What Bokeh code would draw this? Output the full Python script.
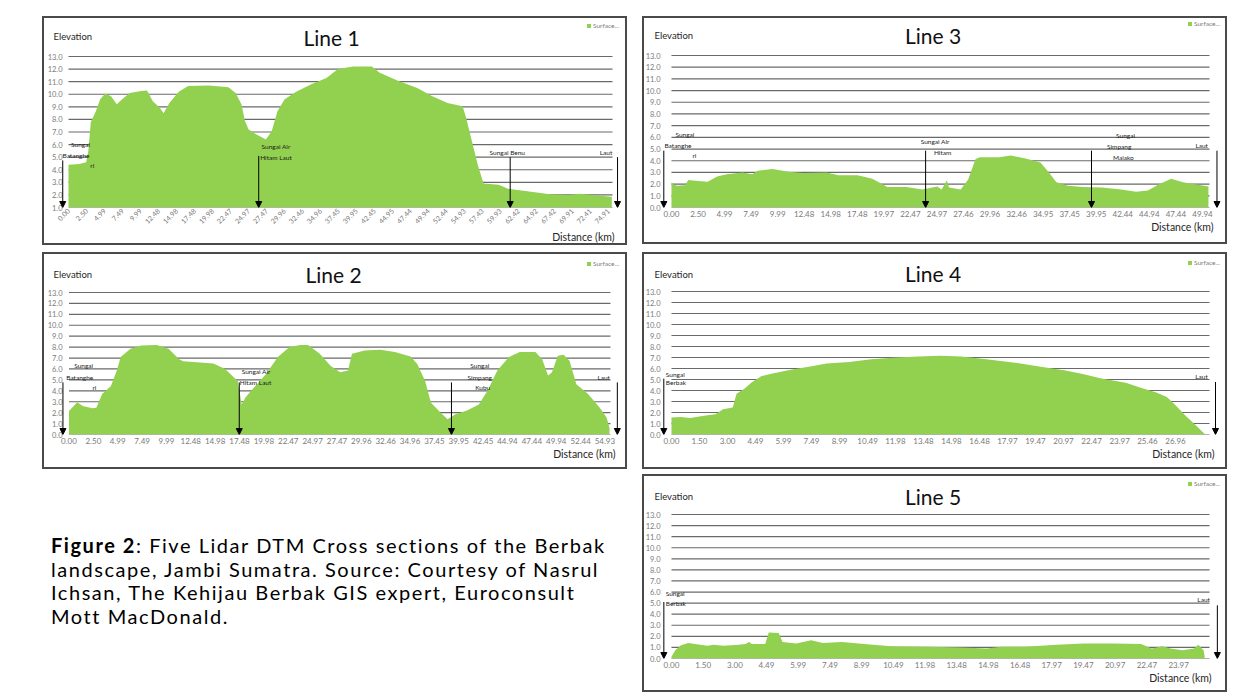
import math
from bokeh.plotting import figure
from bokeh.models import (Label, Arrow, NormalHead, Legend, LegendItem, FixedTicker,
                          PrintfTickFormatter, Range1d, Spacer, Div, Title)
from bokeh.layouts import row, column
from bokeh.embed import file_html
from bokeh.resources import INLINE

# ---------------- data ----------------
line1_km = [0.0, 1.5, 2.45, 2.75, 3.1, 3.8, 4.4, 5.1, 5.9, 6.7, 7.45, 8.5, 10.1, 10.9, 11.7,
            12.7, 13.2, 14.0, 15.3, 16.6, 19.5, 22.2, 23.2, 24.0, 24.5, 25.0, 26.1, 27.4,
            28.2, 29.0, 30.0, 31.6, 33.7, 35.8, 37.4, 39.5, 42.1, 43.2, 45.8, 48.4, 50.5,
            52.6, 54.7, 55.2, 56.0, 56.8, 57.6, 59.7, 61.0, 64.2, 66.8, 69.4, 71.0, 72.6, 75.4]
line1_elev = [4.4, 4.45, 4.6, 5.5, 7.8, 8.65, 9.6, 10.05, 9.85, 9.2, 9.6, 10.1, 10.25, 10.3, 9.45,
              8.9, 8.5, 9.3, 10.2, 10.65, 10.7, 10.55, 10.1, 9.2, 7.85, 7.2, 6.8, 6.4,
              7.05, 8.65, 9.6, 10.2, 10.8, 11.3, 12.0, 12.2, 12.2, 11.7, 11.05, 10.5, 9.85,
              9.3, 9.05, 8.1, 6.25, 4.4, 2.9, 2.8, 2.5, 2.25, 2.05, 2.0, 2.1, 2.0, 1.85]
line1_ticks = [0.00, 2.50, 4.99, 7.49, 9.99, 12.48, 14.98, 17.48, 19.98, 22.47, 24.97, 27.47,
               29.96, 32.46, 34.96, 37.45, 39.95, 42.45, 44.95, 47.44, 49.94, 52.44, 54.93,
               57.43, 59.93, 62.42, 64.92, 67.42, 69.91, 72.41, 74.91]

line2_km = [0.0, 0.85, 1.4, 2.4, 2.8, 3.4, 4.3, 4.9, 5.3, 6.3, 7.4, 9.0, 10.2, 11.3, 11.7,
            14.8, 16.0, 16.7, 17.3, 17.7, 18.1, 19.1, 20.2, 21.4, 22.6, 23.7, 24.5, 25.7,
            26.8, 27.8, 28.6, 29.0, 30.3, 31.9, 33.4, 35.0, 35.7, 36.5, 37.1, 38.1, 38.8,
            39.6, 40.8, 42.0, 42.9, 43.9, 45.1, 46.2, 47.8, 48.5, 49.1, 49.5, 50.1, 50.7,
            51.3, 52.0, 53.2, 54.4, 55.1, 55.4]
line2_elev = [2.15, 2.95, 2.6, 2.4, 2.45, 3.7, 4.45, 5.85, 7.1, 7.85, 8.15, 8.2, 7.85, 6.9, 6.7,
              6.5, 6.0, 5.4, 4.9, 2.75, 3.4, 4.45, 5.55, 7.1, 8.0, 8.2, 8.2, 7.4,
              6.3, 5.7, 5.85, 7.4, 7.7, 7.75, 7.55, 7.15, 6.45, 4.9, 2.9, 2.0, 1.4,
              1.85, 2.2, 2.75, 4.0, 5.85, 7.1, 7.55, 7.55, 6.9, 5.4, 5.7, 7.2, 7.3,
              6.75, 4.6, 3.7, 2.45, 1.55, 0.6]
line2_ticks = [0.00, 2.50, 4.99, 7.49, 9.99, 12.48, 14.98, 17.48, 19.98, 22.47, 24.97, 27.47,
               29.96, 32.46, 34.96, 37.45, 39.95, 42.45, 44.94, 47.44, 49.94, 52.44, 54.93]

line3_km = [0.0, 0.1, 0.5, 1.26, 1.6, 2.0, 3.4, 4.3, 5.2, 6.7, 7.6, 8.1, 9.5, 11.0, 12.4,
            14.6, 15.7, 17.5, 18.9, 20.3, 22.1, 23.6, 25.0, 25.4, 25.9, 26.1, 27.2, 27.9,
            28.6, 29.0, 30.8, 31.9, 33.3, 34.7, 35.5, 36.2, 37.3, 38.7, 40.5, 42.3, 43.7,
            44.8, 45.9, 47.0, 48.1, 49.1, 50.5]
line3_elev = [2.15, 2.0, 1.85, 1.9, 2.35, 2.3, 2.2, 2.65, 2.85, 3.0, 2.85, 3.15, 3.3, 3.05, 2.95,
              3.0, 2.75, 2.75, 2.45, 1.75, 1.75, 1.55, 1.8, 1.55, 2.3, 1.7, 1.55, 2.4,
              4.15, 4.3, 4.3, 4.45, 4.2, 3.85, 3.0, 2.15, 1.85, 1.75, 1.7, 1.55, 1.35,
              1.45, 2.0, 2.45, 2.15, 2.0, 1.8]
line3_ticks = [0.00, 2.50, 4.99, 7.49, 9.99, 12.48, 14.98, 17.48, 19.97, 22.47, 24.97, 27.46,
               29.96, 32.46, 34.95, 37.45, 39.95, 42.44, 44.94, 47.44, 49.94]

line4_km = [0.0, 0.5, 1.0, 1.74, 2.35, 2.76, 3.28, 3.48, 3.9, 4.3, 4.8, 5.4, 6.45, 7.5, 8.3,
            9.5, 10.7, 12.0, 13.2, 14.4, 15.5, 16.5, 17.5, 18.5, 19.75, 21.0, 22.0, 23.0,
            24.3, 25.1, 25.9, 26.5, 27.0, 27.5, 28.1, 28.55]
line4_elev = [1.55, 1.6, 1.5, 1.7, 1.85, 2.3, 2.45, 3.7, 4.15, 4.75, 5.3, 5.55, 5.9, 6.2, 6.45,
              6.6, 6.85, 7.0, 7.1, 7.15, 7.1, 6.9, 6.7, 6.5, 6.15, 5.85, 5.5, 5.1,
              4.7, 4.25, 3.85, 3.4, 2.6, 1.7, 0.75, 0.0]
line4_ticks = [0.00, 1.50, 3.00, 4.49, 5.99, 7.49, 8.99, 10.49, 11.98, 13.48, 14.98, 16.48,
               17.97, 19.47, 20.97, 22.47, 23.97, 25.46, 26.96]

line5_km = [0.0, 0.18, 0.45, 0.8, 1.36, 1.7, 2.0, 2.44, 3.17, 3.5, 3.67, 3.8, 4.43, 4.6, 5.07,
            5.25, 5.9, 6.6, 7.15, 8.05, 9.1, 10.4, 12.2, 13.65, 14.9, 15.6, 16.7, 18.2,
            19.45, 20.9, 22.2, 22.7, 23.2, 23.6, 24.15, 24.7, 24.9, 25.15, 25.2]
line5_elev = [0.15, 0.75, 1.2, 1.4, 1.25, 1.15, 1.25, 1.15, 1.25, 1.3, 1.5, 1.3, 1.3, 2.35, 2.3,
              1.5, 1.35, 1.65, 1.4, 1.5, 1.3, 1.1, 1.05, 1.0, 0.9, 1.05, 1.05, 1.25,
              1.35, 1.35, 1.3, 0.9, 1.1, 0.9, 0.75, 0.9, 1.25, 0.75, 0.15]
line5_ticks = [0.00, 1.50, 3.00, 4.49, 5.99, 7.49, 8.99, 10.49, 11.98, 13.48, 14.98, 16.48,
               17.97, 19.47, 20.97, 22.47, 23.97]

# river / sea markers (km) and their labels (text, km, elevation, align)
line1_rivers = [-0.8, 26.4, 61.3, 76.2]
line1_notes = [("Sungai", 1.67, 6.0, "center"), ("Batanghe", 1.04, 5.13, "center"), ("ri", 3.3, 4.34, "center"),
               ("Sungai Air", 26.8, 5.85, "left"), ("Hitam Laut", 26.6, 4.97, "left"),
               ("Sungai Benu", 60.9, 5.37, "center"), ("Laut", 74.6, 5.37, "center")]
line2_rivers = [-0.62, 17.45, 39.2, 56.2]
line2_notes = [("Sungai", 1.5, 6.3, "center"), ("Batanghe", 1.1, 5.2, "center"), ("ri", 2.6, 4.3, "center"),
               ("Sungai Air", 17.7, 5.8, "left"), ("Hitam Laut", 17.5, 4.8, "left"),
               ("Sungai", 42.1, 6.3, "center"), ("Simpang", 42.1, 5.2, "center"), ("Kubu", 42.4, 4.3, "center"),
               ("Laut", 54.8, 5.2, "center")]
line3_rivers = [-0.72, 23.9, 39.5, 51.3]
line3_notes = [("Sungai", 1.27, 6.26, "center"), ("Batanghe", 0.61, 5.3, "center"), ("ri", 2.16, 4.46, "center"),
               ("Sungai Air", 24.8, 5.63, "center"), ("Hitam", 25.5, 4.71, "center"),
               ("Sungai", 42.7, 6.2, "center"), ("Simpang", 42.1, 5.23, "center"), ("Malako", 42.5, 4.3, "center"),
               ("Laut", 49.86, 5.3, "center")]
line4_rivers = [-0.41, 29.1]
line4_notes = [("Sungai", -0.3, 5.5, "left"), ("Berbak", -0.3, 4.7, "left"), ("Laut", 28.35, 5.3, "center")]
line5_rivers = [-0.36, 25.8]
line5_notes = [("Sungai", -0.27, 5.9, "left"), ("Berbak", -0.27, 5.0, "left"), ("Laut", 25.15, 5.3, "center")]

# ---------------- style ----------------
FONT = "Lato"
GREEN = "#92D050"
GRID = "#6a6a6a"
TICKC = "#7a7a7a"


def make_panel(name, km, elev, ticks, rivers, arrow_tops, notes, g, rotate=False):
    # frame covers the panel except the axis strips; data region is [0, xmax] x [ymin, 13]
    Lf = g["Lf"]
    Rf = g["px"] + g["w"] - 2
    Tf = g["py"] + 2
    k = (g["R"] - g["L"]) / g["xmax"]
    ppu = (g["B"] - g["T"]) / (13 - g["ymin"])
    x0 = -(g["L"] - Lf) / k
    x1 = g["xmax"] + (Rf - g["R"]) / k
    y1 = 13 + (g["T"] - Tf) / ppu

    def dx(X):
        return (X - g["L"]) / k

    def dy(Y):
        return g["ymin"] + (g["B"] - Y) / ppu

    p = figure(width=g["w"], height=g["h"],
               x_range=Range1d(x0, x1), y_range=Range1d(g["ymin"], y1),
               output_backend="svg", toolbar_location=None,
               min_border_left=Lf - g["px"], min_border_right=2,
               min_border_top=2, min_border_bottom=g["py"] + g["h"] - g["B"],
               background_fill_alpha=0, border_fill_alpha=0,
               outline_line_color=None,
               styles={"box-shadow": "inset 0 0 0 2px #4a4a4a"})
    p.grid.visible = False

    yt = list(range(int(g["ymin"]), 14))
    p.segment(x0=0, x1=g["xmax"], y0=yt, y1=yt, line_color=GRID, line_width=1.2)
    r = p.varea(x=km, y1=g["ymin"], y2=elev, fill_color=GREEN)

    p.yaxis.ticker = FixedTicker(ticks=yt, minor_ticks=[])
    p.yaxis.formatter = PrintfTickFormatter(format="%.1f")
    p.yaxis.axis_line_color = None
    p.yaxis.major_tick_line_color = None
    p.yaxis.minor_tick_line_color = None
    p.yaxis.major_tick_out = 0
    p.yaxis.major_label_standoff = g["ys"]
    p.yaxis.major_label_text_font = FONT
    p.yaxis.major_label_text_font_size = "7.5px"
    p.yaxis.major_label_text_color = TICKC

    p.xaxis.ticker = FixedTicker(ticks=ticks, minor_ticks=[])
    p.xaxis.formatter = PrintfTickFormatter(format="%.2f")
    p.xaxis.axis_line_color = None
    p.xaxis.major_tick_line_color = None
    p.xaxis.minor_tick_line_color = None
    p.xaxis.major_tick_out = 0
    p.xaxis.major_label_standoff = 2 if rotate else 3
    p.xaxis.major_label_text_font = FONT
    p.xaxis.major_label_text_font_size = "7px" if rotate else "8px"
    p.xaxis.major_label_text_color = TICKC
    if rotate:
        p.xaxis.major_label_orientation = math.pi / 4

    for xk, top in zip(rivers, arrow_tops):
        p.add_layout(Arrow(end=NormalHead(size=6, fill_color="black", line_color="black"),
                           x_start=xk, y_start=top, x_end=xk, y_end=g["ymin"],
                           line_color="black", line_width=1))
    for text, xk, ye, align in notes:
        p.add_layout(Label(x=xk, y=ye, text=text, text_align=align, text_baseline="middle",
                           text_font=FONT, text_font_size="6.5px", text_color="#1a1a1a"))

    p.add_layout(Label(x=dx(g["tx"]), y=dy(g["ty"]), text=name, text_align="center",
                       text_baseline="middle", text_font=FONT, text_font_size="21px",
                       text_color="#111111"))
    p.add_layout(Label(x=dx(g["ex"]), y=dy(g["ey"]), text="Elevation", text_align="left",
                       text_baseline="middle", text_font=FONT, text_font_size="9.5px",
                       text_color="#262626"))

    p.add_layout(Title(text="Distance (km)", align="right", offset=Rf - g["dx"], standoff=g["ds"],
                       vertical_align=g["va"], text_font=FONT, text_font_size="10.5px",
                       text_font_style="normal", text_color="#262626"), "below")

    leg = Legend(items=[LegendItem(label="Surface...", renderers=[r])],
                 location=(g["lx"] - Lf, g["B"] - g["ly"] - 4),
                 glyph_width=5, glyph_height=5, label_height=8, label_standoff=2,
                 label_text_font=FONT, label_text_font_size="6.5px", label_text_color=TICKC,
                 padding=0, margin=0, spacing=0, border_line_alpha=0, background_fill_alpha=0)
    p.add_layout(leg)
    return p


g1 = dict(px=42, py=16, w=585, h=229, Lf=52, ys=-10, L=68, R=612, T=56, B=207, xmax=75.5, ymin=1.0,
          tx=331, ty=37, ex=53, ey=36, dx=614, dy=234, ds=-26, va="bottom", lx=586, ly=25)
g2 = dict(px=42, py=252, w=585, h=217, Lf=52, ys=-10, L=68.5, R=610, T=292, B=434, xmax=55.5, ymin=0.0,
          tx=333, ty=274, ex=53, ey=274, dx=615, dy=458, ds=0, va="middle", lx=586, ly=263)
g3 = dict(px=635, py=16, w=585, h=228, Lf=644, ys=-8, L=663, R=1202, T=55, B=207, xmax=50.6, ymin=0.0,
          tx=925, ty=35, ex=646, ey=35, dx=1206, dy=229, ds=0, va="middle", lx=1179, ly=23)
g4 = dict(px=635, py=252, w=585, h=217, Lf=644, ys=-8, L=663, R=1202, T=291, B=434, xmax=28.78, ymin=0.0,
          tx=925, ty=273, ex=646, ey=274, dx=1207, dy=458, ds=0, va="middle", lx=1179, ly=262)
g5 = dict(px=635, py=474, w=585, h=218, Lf=644, ys=-8, L=663, R=1202, T=514, B=658, xmax=25.43, ymin=0.0,
          tx=925, ty=496, ex=646, ey=496, dx=1204, dy=680, ds=0, va="middle", lx=1179, ly=483)

p1 = make_panel("Line 1", line1_km, line1_elev, line1_ticks, line1_rivers, [4.74, 5.1, 5.0, 5.0],
                line1_notes, g1, rotate=True)
p2 = make_panel("Line 2", line2_km, line2_elev, line2_ticks, line2_rivers, [4.77] * 4, line2_notes, g2)
p3 = make_panel("Line 3", line3_km, line3_elev, line3_ticks, line3_rivers, [4.86] * 4, line3_notes, g3)
p4 = make_panel("Line 4", line4_km, line4_elev, line4_ticks, line4_rivers, [5.08, 4.77], line4_notes, g4)
p5 = make_panel("Line 5", line5_km, line5_elev, line5_ticks, line5_rivers, [5.1, 4.8], line5_notes, g5)

caption = Div(text=("<b>Figure 2</b>: Five Lidar DTM Cross sections of the Berbak<br>"
                    "landscape, Jambi Sumatra. Source: Courtesy of Nasrul<br>"
                    "Ichsan, The Kehijau Berbak GIS expert, Euroconsult<br>"
                    "Mott MacDonald."),
              width=578, height=110,
              styles={"font-family": "Lato", "font-size": "20px", "line-height": "23.7px",
                      "letter-spacing": "1.55px", "color": "#000000"})

left = column(Spacer(width=585, height=16), p1, Spacer(height=7), p2, Spacer(height=60),
              row(Spacer(width=4), caption))
right = column(Spacer(width=585, height=16), p3, Spacer(height=8), p4, Spacer(height=5), p5)
layout = row(Spacer(width=42), left, Spacer(width=8), right)

open("out.html", "w").write(file_html(layout, INLINE))
